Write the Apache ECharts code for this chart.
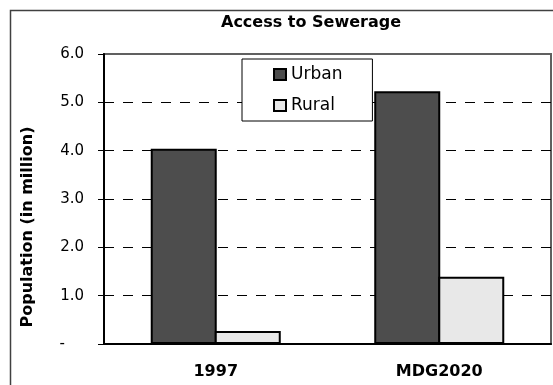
<!DOCTYPE html>
<html>
<head>
<meta charset="utf-8">
<script src="https://cdn.jsdelivr.net/npm/echarts@6/dist/echarts.min.js"></script>
<style>
html,body{margin:0;padding:0;background:#fff;}
#c{width:553px;height:385px;}
</style>
</head>
<body>
<div id="c"></div>
<script>
const categories = ['1997', 'MDG2020'];
const seriesNames = ['Urban', 'Rural'];
const urbanValues = [4.04, 5.23];
const ruralValues = [0.27, 1.39];
const titleText = 'Access to Sewerage';
const yAxisTitle = 'Population (in million)';

const chart = echarts.init(document.getElementById('c'), null, {renderer: 'canvas'});
const FONT = 'DejaVu Sans';
chart.setOption({
  animation: false,
  backgroundColor: '#fff',
  title: {
    text: titleText,
    left: 221, top: 15, padding: 0,
    textStyle: {fontFamily: FONT, fontWeight: 'bold', fontSize: 16, color: '#000'}
  },
  legend: {
    orient: 'vertical',
    left: 242, top: 59,
    padding: [7, 30, 7, 31],
    itemGap: 14,
    itemWidth: 12, itemHeight: 11,
    backgroundColor: '#fff',
    borderColor: '#000', borderWidth: 1,
    icon: 'rect',
    textStyle: {fontFamily: FONT, fontSize: 17, color: '#000', padding: [0, 0, 0, 0]},
    data: seriesNames
  },
  grid: {
    left: 104, top: 54, right: 2, bottom: 41,
    show: true, borderColor: '#606060', borderWidth: 2, backgroundColor: 'transparent'
  },
  xAxis: {
    type: 'category',
    data: categories,
    axisLine: {lineStyle: {color: '#000', width: 2}},
    axisTick: {show: false},
    axisLabel: {fontFamily: FONT, fontWeight: 'bold', fontSize: 16, color: '#000', margin: 20}
  },
  yAxis: {
    type: 'value', min: 0, max: 6, interval: 1,
    axisLine: {show: true, lineStyle: {color: '#000', width: 2}},
    axisTick: {show: true, length: 6, lineStyle: {color: '#000', width: 1}},
    axisLabel: {
      fontFamily: FONT, fontSize: 15, color: '#000', margin: 20,
      formatter: v => v === 0 ? '-    ' : v.toFixed(1)
    },
    splitLine: {show: true, showMinLine: false, showMaxLine: false,
      lineStyle: {color: '#000', width: 1, type: [10, 9]}}
  },
  series: [
    {
      name: seriesNames[0], type: 'bar', data: urbanValues,
      barWidth: 66, barGap: '-3%',
      itemStyle: {color: '#4d4d4d', borderColor: '#000', borderWidth: 2}
    },
    {
      name: seriesNames[1], type: 'bar', data: ruralValues,
      barWidth: 66, barGap: '-3%',
      itemStyle: {color: '#e8e8e8', borderColor: '#000', borderWidth: 2}
    }
  ],
  graphic: [
    {
      type: 'rect', z: -10, silent: true,
      shape: {x: 10.5, y: 10.5, width: 700, height: 700},
      style: {fill: 'none', stroke: '#404040', lineWidth: 1.5}
    },
    {
      type: 'text', silent: true,
      x: 28, y: 227, rotation: Math.PI / 2,
      style: {
        text: yAxisTitle, fontFamily: FONT, fontWeight: 'bold', fontSize: 16,
        fill: '#000', align: 'center', verticalAlign: 'middle'
      }
    }
  ]
});
</script>
</body>
</html>
